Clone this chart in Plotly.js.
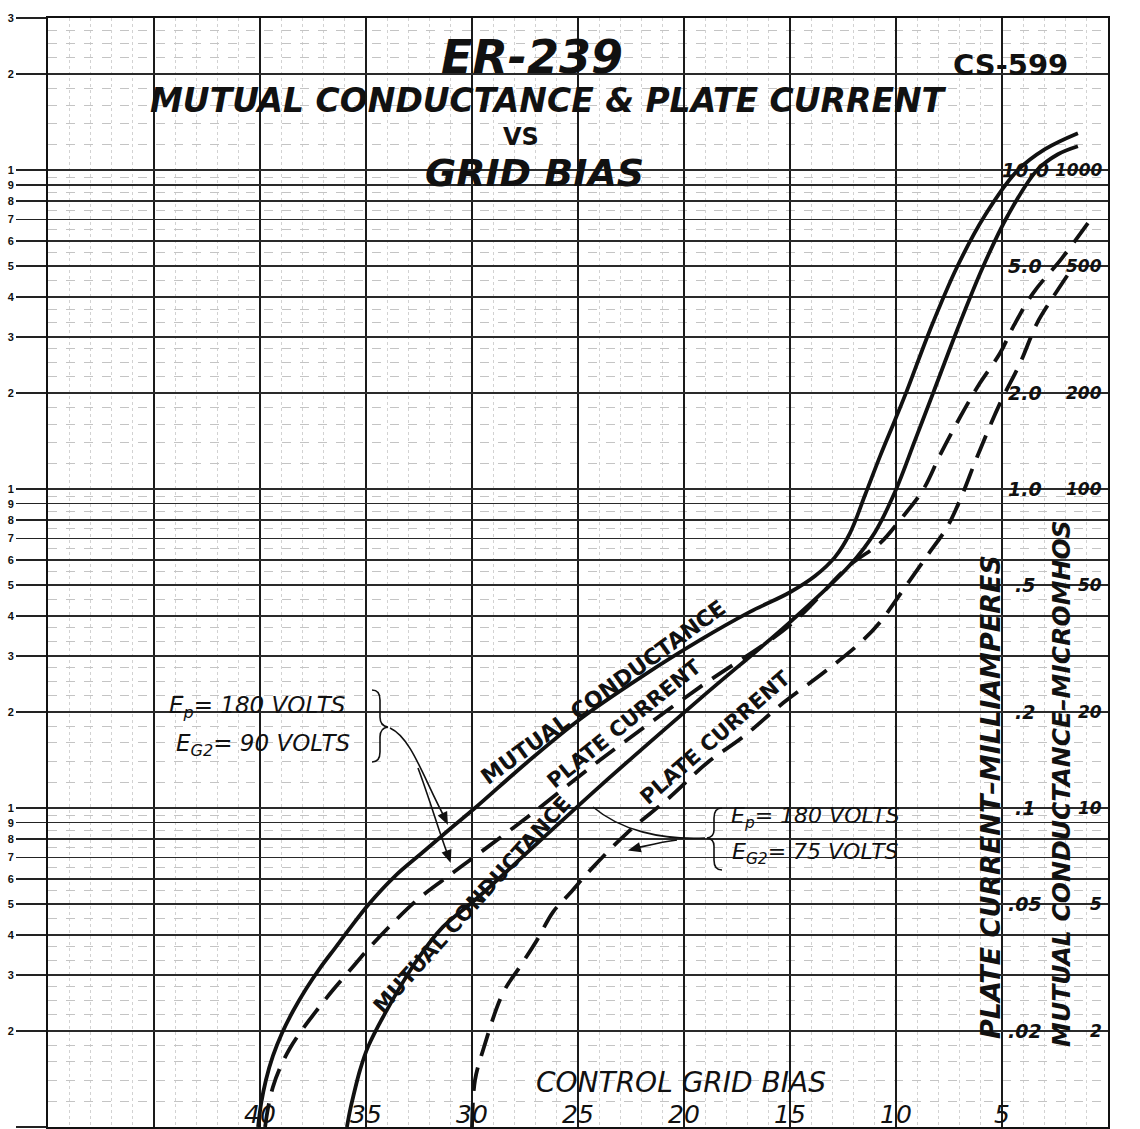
<!DOCTYPE html>
<html>
<head>
<meta charset="utf-8">
<script src="https://cdn.plot.ly/plotly-3.0.1.min.js"></script>
<style>
html,body{margin:0;padding:0;background:#fff;}
#chart{width:1140px;height:1129px;}
</style>
</head>
<body>
<div id="chart"></div>
<script>
// ---------------- DATA ----------------
// Control grid bias (volts, negative) and mutual conductance (micromhos), Ep=180, Eg2=90
const biasMC90 = [40.09, 39.95, 39.72, 39.39, 38.96, 38.44, 37.83, 37.17, 36.46, 35.71, 34.91, 33.63, 32.31, 31.04, 29.86, 27.41, 24.91, 22.08, 19.25, 16.89, 15.0, 13.82, 12.88, 12.17, 11.46, 10.75, 10.05, 9.48, 8.4, 7.12, 5.8, 4.25, 2.97, 1.42];
const gmMC90   = [1.0, 1.181, 1.404, 1.67, 1.971, 2.31, 2.708, 3.15, 3.64, 4.24, 4.96, 6.12, 7.28, 8.6, 10.0, 13.9, 19.0, 25.6, 33.6, 41.2, 47.5, 53.4, 61.2, 72.8, 95.8, 126.9, 164.5, 204, 315, 497, 722, 1000, 1164, 1306];

// Mutual conductance (micromhos), Ep=180, Eg2=75
const biasMC75 = [35.9, 35.75, 35.61, 35.28, 34.91, 34.01, 32.59, 31.37, 29.86, 27.26, 23.96, 19.25, 15.0, 12.17, 10.99, 10.05, 9.1, 8.25, 7.12, 5.9, 4.72, 3.35, 2.36, 1.42];
const gmMC75   = [1.0, 1.13, 1.24, 1.51, 1.78, 2.33, 3.34, 4.24, 5.15, 7.39, 11.72, 22.0, 38.3, 57.8, 73.3, 97.9, 142.5, 200, 315, 497, 722, 1000, 1122, 1189];

// Plate current (milliamperes), Ep=180, Eg2=90
const biasPC90 = [39.76, 39.62, 39.39, 39.06, 38.58, 38.02, 37.31, 36.56, 35.75, 34.81, 33.87, 32.59, 31.37, 30.09, 27.26, 23.96, 19.25, 15.0, 12.17, 10.75, 9.81, 8.73, 7.92, 6.98, 6.04, 5.09, 4.48, 3.54, 2.17, 0.85];
const ipPC90   = [0.01, 0.01147, 0.01335, 0.01531, 0.01769, 0.02014, 0.02327, 0.02689, 0.03105, 0.03666, 0.0427, 0.0515, 0.0595, 0.0687, 0.0951, 0.1414, 0.2395, 0.375, 0.578, 0.677, 0.80, 0.993, 1.28, 1.68, 2.15, 2.67, 3.22, 4.11, 5.30, 6.97];

// Plate current (milliamperes), Ep=180, Eg2=75
const biasPC75 = [30.0, 29.86, 29.48, 28.54, 27.74, 26.93, 26.18, 25.38, 24.29, 22.69, 20.66, 18.92, 17.22, 15.33, 13.44, 11.7, 10.75, 9.67, 8.54, 7.59, 6.98, 6.18, 5.09, 4.15, 3.35, 2.59, 1.65];
const ipPC75   = [0.01, 0.0140, 0.0174, 0.0263, 0.0318, 0.0386, 0.0472, 0.0541, 0.0653, 0.0835, 0.1083, 0.1384, 0.167, 0.2134, 0.265, 0.329, 0.383, 0.482, 0.617, 0.760, 0.924, 1.259, 1.86, 2.48, 3.31, 4.0, 4.97];

// Tick labels
const biasRules    = [45, 40, 35, 30, 25, 20, 15, 10, 5];
const biasTicks    = [40, 35, 30, 25, 20, 15, 10, 5];
const biasTickText = ['40', '35', '30', '25', '20', '15', '10', '5'];
const cycleDigits  = ['1','2','3','4','5','6','7','8','9'];
const pcLabelVals  = [0.02, 0.05, 0.1, 0.2, 0.5, 1, 2, 5, 10];
const pcLabelText  = ['.02', '.05', '.1', '.2', '.5', '1.0', '2.0', '5.0', '10.0'];
const gmLabelVals  = [2, 5, 10, 20, 50, 100, 200, 500, 1000];
const gmLabelText  = ['2', '5', '10', '20', '50', '100', '200', '500', '1000'];

// ---------------- LAYOUT HELPERS ----------------
const L = 48, R = 1108, T = 18, B = 1127;
const fx = x => (x - L) / (R - L);
const fy = y => (B - y) / (B - T);
const pathPx = s => s.replace(/(-?[\d.]+),(-?[\d.]+)/g, (m, a, b) => fx(+a).toFixed(5) + ',' + fy(+b).toFixed(5));

// Log-paper grid values
const majorY = [], majorYText = [];
[1, 10, 100].forEach(d => cycleDigits.forEach((t, i) => { majorY.push((i + 1) * d); majorYText.push(t); }));
[1000, 2000, 3000].forEach((v, i) => { majorY.push(v); majorYText.push(cycleDigits[i]); });
const minorMant = [1.2, 1.4, 1.6, 1.8, 2.25, 2.5, 2.75, 3.33, 3.67, 4.5, 5.5, 6.5, 7.5, 8.5, 9.5];
const minorY = [];
[1, 10, 100, 1000].forEach(d => minorMant.forEach(m => { if (m * d <= 3000) minorY.push(m * d); }));

const lettering = 'DejaVu Sans, Noto Sans, sans-serif';
const lineW = 3.8;
const dashPat = '24px,12px';
const smooth = 1.0;

const traces = [
  {x: biasMC90, y: gmMC90, yaxis: 'y', mode: 'lines', name: 'Mutual conductance, Eg2=90',
   line: {color: '#111', width: lineW, shape: 'spline', smoothing: smooth}},
  {x: biasMC75, y: gmMC75, yaxis: 'y', mode: 'lines', name: 'Mutual conductance, Eg2=75',
   line: {color: '#111', width: lineW, shape: 'spline', smoothing: smooth}},
  {x: biasPC90, y: ipPC90, yaxis: 'y2', mode: 'lines', name: 'Plate current, Eg2=90',
   line: {color: '#111', width: lineW, dash: dashPat, shape: 'spline', smoothing: smooth}},
  {x: biasPC75, y: ipPC75, yaxis: 'y2', mode: 'lines', name: 'Plate current, Eg2=75',
   line: {color: '#111', width: lineW, dash: dashPat, shape: 'spline', smoothing: smooth}}
];

const ann = [];
function pText(text, px, py, font, opts) {
  ann.push(Object.assign({
    text: text, x: fx(px), y: fy(py), xref: 'paper', yref: 'paper',
    showarrow: false, xanchor: 'center', yanchor: 'middle', font: font
  }, opts || {}));
}
const F = (size, weight, style) => ({family: lettering, size: size, color: '#111', weight: weight || 'normal', style: style || 'normal'});

// Titles
pText('CS-599', 1010, 65, F(29, 'bold'));
pText('MUTUAL CONDUCTANCE &amp; PLATE CURRENT', 548, 101, F(33, 'bold', 'italic'));
pText('VS', 521, 137, F(24, 'bold'));
pText('GRID BIAS', 534, 173, F(38, 'bold', 'italic'));
pText('CONTROL GRID BIAS', 681, 1082, F(28, 'normal', 'italic'));

// Right-hand scale labels (plate current on y2, mutual conductance on y)
pcLabelVals.forEach((v, i) => ann.push({
  text: pcLabelText[i], x: 3.9, y: Math.log10(v), xref: 'x', yref: 'y2', showarrow: false,
  xanchor: 'center', yanchor: 'middle', font: F(19, 'bold', 'italic')
}));
gmLabelVals.forEach((v, i) => ann.push({
  text: gmLabelText[i], x: 0.2, y: Math.log10(v), xref: 'x', yref: 'y', showarrow: false,
  xanchor: 'right', yanchor: 'middle', font: F(17, 'bold', 'italic')
}));
pText('PLATE CURRENT\u2013MILLIAMPERES', 990, 797, F(27, 'bold', 'italic'), {textangle: -90});
pText('MUTUAL CONDUCTANCE\u2013MICROMHOS', 1061, 784, F(25, 'bold', 'italic'), {textangle: -90});

// Curve labels
pText('MUTUAL CONDUCTANCE', 603, 692, F(22, 'bold'), {textangle: -36});
pText('PLATE CURRENT', 624, 724, F(21, 'bold'), {textangle: -39});
pText('PLATE CURRENT', 715, 738, F(21, 'bold'), {textangle: -41});
pText('MUTUAL CONDUCTANCE', 472, 905, F(21, 'bold'), {textangle: -48});

// Operating conditions
pText('E<sub>p</sub>= 180 VOLTS', 257, 707, F(23, 'normal', 'italic'));
pText('E<sub>G2</sub>= 90 VOLTS', 263, 745, F(23, 'normal', 'italic'));
pText('E<sub>p</sub>= 180 VOLTS', 815, 818, F(22, 'normal', 'italic'));
pText('E<sub>G2</sub>= 75 VOLTS', 815, 853, F(22, 'normal', 'italic'));

// Bias scale labels, drawn inside the plot just above the bottom edge
biasTicks.forEach((v, i) => ann.push({
  text: biasTickText[i], x: v, y: 0.04, xref: 'x', yref: 'y', showarrow: false,
  xanchor: 'center', yanchor: 'middle', font: F(25, 'normal', 'italic')
}));

// Leader lines and braces (decoration)
const deco = {type: 'path', xref: 'paper', yref: 'paper', line: {color: '#111', width: 1.6}};
function arrowHead(tx, ty, fxp, fyp) {
  const dx = tx - fxp, dy = ty - fyp, len = Math.hypot(dx, dy);
  const ux = dx / len, uy = dy / len, s = 10, w = 4;
  const bx = tx - ux * s, by = ty - uy * s;
  return `M${tx},${ty} L${(bx - uy * w).toFixed(1)},${(by + ux * w).toFixed(1)} L${(bx + uy * w).toFixed(1)},${(by - ux * w).toFixed(1)} Z`;
}
const shapes = [
  Object.assign({}, deco, {path: pathPx('M372,690 Q380,690 380,700 L380,717 Q380,726 388,727 Q380,728 380,737 L380,752 Q380,762 372,762')}),
  Object.assign({}, deco, {path: pathPx('M722,808 Q714,808 714,818 L714,830 Q714,837 707,838 Q714,839 714,846 L714,860 Q714,870 722,870')}),
  Object.assign({}, deco, {path: pathPx('M390,728 C412,738 424,780 446,820')}),
  Object.assign({}, deco, {path: pathPx('M418,768 C430,800 440,835 449,858')}),
  Object.assign({}, deco, {path: pathPx('M705,838 C660,840 620,830 593,807')}),
  Object.assign({}, deco, {path: pathPx('M677,840 C660,842 646,846 632,849')}),
  Object.assign({}, deco, {fillcolor: '#111', path: pathPx(arrowHead(447, 823, 440, 808))}),
  Object.assign({}, deco, {fillcolor: '#111', path: pathPx(arrowHead(450, 861, 445, 846))}),
  Object.assign({}, deco, {fillcolor: '#111', path: pathPx(arrowHead(630, 850, 645, 846))})
];

const layout = {
  width: 1140, height: 1129,
  margin: {l: L, r: 1140 - R, t: T, b: 1129 - B, pad: 0},
  paper_bgcolor: '#fff', plot_bgcolor: '#fff',
  showlegend: false,
  title: {text: 'ER-239', x: fx(532), xref: 'paper', xanchor: 'center', y: 1 - 57 / 1129, yanchor: 'middle',
          font: F(46, 'bold', 'italic')},
  xaxis: {
    range: [50, 0], tickmode: 'array', tickvals: biasRules, showticklabels: false,
    ticks: '',
    showgrid: true, gridcolor: '#1a1a1a', gridwidth: 2,
    minor: {tickmode: 'linear', tick0: 0, dtick: 1, showgrid: true, gridcolor: '#d2d2d2', gridwidth: 1, griddash: 'dot'},
    showline: true, mirror: true, linecolor: '#111', linewidth: 2, zeroline: false
  },
  yaxis: {
    type: 'log', range: [0, Math.log10(3000)], tickmode: 'array', tickvals: majorY, ticktext: majorYText,
    ticks: 'outside', ticklen: 30, tickwidth: 1.5, tickcolor: '#222',
    tickfont: {family: 'Liberation Sans, DejaVu Sans, sans-serif', size: 11, color: '#111', weight: 'bold'},
    showgrid: true, gridcolor: '#2a2a2a', gridwidth: 1.5,
    minor: {tickmode: 'array', tickvals: minorY, showgrid: true, gridcolor: '#c4c4c4', gridwidth: 1, griddash: 'dash', ticks: ''},
    showline: true, mirror: true, linecolor: '#111', linewidth: 2, zeroline: false
  },
  yaxis2: {
    type: 'log', range: [-2, Math.log10(30)], overlaying: 'y', side: 'right',
    showgrid: false, showticklabels: false, ticks: '', showline: false, zeroline: false
  },
  annotations: ann,
  shapes: shapes
};

Plotly.newPlot('chart', traces, layout, {displayModeBar: false, staticPlot: true});
</script>
</body>
</html>
